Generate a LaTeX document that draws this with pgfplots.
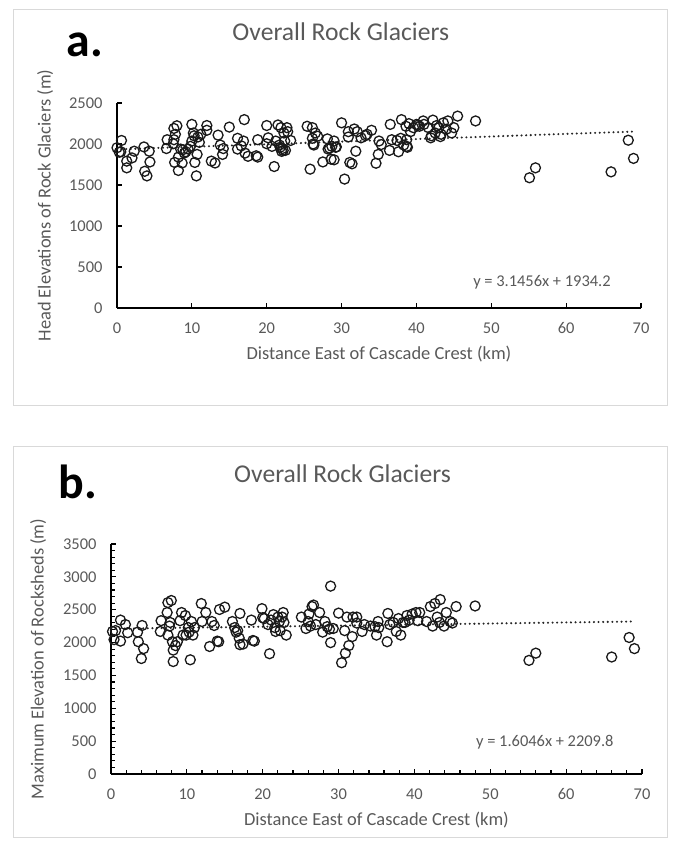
\documentclass[border=0pt]{standalone}
\usepackage{fontspec}
\setmainfont{Carlito}
\usepackage{pgfplots}
\usepackage{pgfplotstable}
\pgfplotsset{compat=1.18}
\definecolor{txt}{HTML}{595959}
\definecolor{bord}{HTML}{D9D9D9}

\pgfplotstableread{
x y
0.0 1954
0.3 1900
0.6 2043
0.5 1905
1.3 1791
1.3 1709
2.0 1830
2.3 1912
3.6 1964
3.7 1667
4.0 1611
4.3 1912
4.4 1781
6.6 1944
6.7 2052
7.5 2003
7.6 2052
7.6 2190
7.8 2118
8.0 2222
7.7 1775
8.2 1677
8.2 1840
8.5 1938
8.7 1768
8.8 1930
9.0 1890
9.2 1905
9.5 1938
9.8 1971
10.0 2239
10.0 2036
10.2 2134
10.3 2100
10.4 1775
10.6 1611
10.7 1873
10.8 2085
11.0 2020
11.2 2118
12.0 2225
12.0 2167
12.6 1791
13.1 1768
13.5 2108
13.8 1987
14.1 1873
14.2 1944
15.0 2206
16.1 2069
16.1 1938
16.6 1977
16.9 2036
17.0 2297
17.1 1889
17.5 1850
18.6 1856
18.8 2052
18.8 1840
20.0 2225
20.0 2003
20.2 2075
20.7 1971
21.0 1725
21.2 2036
21.5 2232
21.7 1987
21.8 1960
21.9 2199
22.0 1910
22.1 1944
22.2 1920
22.3 2134
22.4 2036
22.7 2199
22.5 1922
22.8 2150
23.2 2043
25.4 2216
25.8 1693
26.1 2199
26.1 2069
26.2 2000
26.3 1987
26.5 2134
26.8 2095
27.5 1781
28.1 2062
28.2 1938
28.4 1950
28.6 1814
28.7 1971
29.0 2036
29.0 1807
29.2 1960
29.3 1964
30.0 2258
30.4 1572
30.9 2150
30.9 2085
31.1 1775
31.4 1758
31.7 2183
31.9 1912
32.1 2150
32.6 2075
33.2 2101
33.4 2118
34.0 2167
34.6 1765
34.9 1873
35.0 2036
35.3 1993
36.4 1922
36.5 2239
36.7 2052
37.4 2043
37.6 1905
37.9 2069
38.0 2297
38.3 1987
38.6 2216
38.7 1971
38.7 2052
38.8 1960
39.0 2248
39.2 2150
39.6 2199
40.0 2239
40.2 2230
40.4 2216
40.9 2281
41.0 2239
41.6 2199
41.9 2075
42.0 2100
42.2 2291
42.5 2134
42.7 2225
43.0 2199
43.2 2090
43.3 2118
43.6 2258
44.0 2180
44.2 2281
44.7 2134
45.0 2199
45.5 2340
47.9 2281
55.1 1588
55.9 1709
66.0 1660
68.3 2046
69.0 1824
}\dataA

\pgfplotstableread{
x y
0.2 2169
0.4 2045
0.6 2182
1.25 2342
1.25 2022
1.9 2274
2.2 2150
3.5 2159
3.6 2013
4.1 2260
4.0 1757
4.3 1908
6.5 2169
6.6 2333
7.4 2457
7.5 2608
7.5 2114
7.7 2251
7.95 2640
7.8 2306
8.1 2013
8.2 1885
8.2 1711
8.5 1954
8.75 2013
9.1 2333
9.3 2457
9.5 2114
9.8 2411
9.9 2114
10.2 2228
10.3 2159
10.45 1738
10.6 2320
10.8 2114
11.0 2228
11.9 2594
12.0 2320
12.5 2457
13.0 1940
13.3 2320
13.6 2260
14.0 2022
14.2 2013
14.3 2503
15.0 2539
16.0 2320
16.3 2228
16.5 2159
16.7 2182
16.9 2068
17.0 2443
17.0 1968
17.4 1977
18.5 2342
18.7 2031
18.9 2022
19.9 2516
20.0 2379
20.2 2365
20.7 2274
20.9 1830
21.1 2342
21.4 2425
21.6 2228
21.7 2169
22.0 2388
22.2 2320
22.3 2182
22.55 2388
22.7 2457
22.8 2306
23.1 2114
25.1 2388
25.7 2214
26.0 2320
26.1 2434
26.3 2251
26.5 2548
26.7 2571
27.0 2274
27.5 2457
27.9 2159
28.2 2320
28.5 2242
28.8 2205
28.95 1999
28.95 2859
29.3 2214
30.0 2448
30.4 1693
30.8 2182
30.9 1839
31.1 2388
31.35 1954
31.8 2091
31.9 2388
32.4 2388
32.4 2297
33.1 2169
33.4 2274
34.2 2251
34.8 2242
35.0 2114
35.2 2320
35.3 2228
36.4 2013
36.5 2443
36.75 2274
37.2 2306
37.6 2169
37.9 2365
38.2 2114
38.5 2306
38.75 2306
39.0 2411
39.3 2342
39.7 2434
40.2 2457
40.45 2333
40.7 2457
41.6 2320
42.1 2548
42.4 2251
42.7 2594
43.0 2388
43.3 2306
43.4 2654
43.9 2251
44.2 2457
44.7 2320
45.0 2297
45.5 2548
48.0 2557
55.1 1729
56.0 1839
66.0 1780
68.3 2077
69.0 1908
}\dataB

\pgfplotsset{
  rg/.style={
    scale only axis,
    anchor=south west,
    clip=false,
    axis x line*=bottom,
    axis y line*=left,
    axis line style={line width=1.6bp, black},
    xmin=0, xmax=70, xtick={0,10,...,70},
    tick align=inside,
    major tick length=5bp,
    minor tick length=3.5bp,
    every tick/.style={black, line width=1.2bp},
    tick label style={font=\fontsize{16.5}{18}\selectfont, text=txt},
    /pgf/number format/assume math mode=true,
    /pgf/number format/1000 sep={},
    xticklabel style={anchor=center, yshift=-20bp},
    yticklabel style={anchor=east, xshift=-11bp},
    label style={font=\fontsize{18.5}{21}\selectfont, text=txt},
    xlabel style={at={(axis description cs:0.5,0)}, anchor=center, yshift=-46bp},
    ylabel style={anchor=center, rotate=0},
    title style={font=\fontsize{25.7}{28}\selectfont, text=txt, anchor=center},
  },
  pts/.style={only marks, mark=o, mark size=5bp, mark options={line width=1.3bp, draw=black!90}},
  trend/.style={line width=2.3bp, line cap=round, dash pattern=on 0bp off 4.6bp, color=black!85},
}

\begin{document}
\begin{tikzpicture}[x=1bp,y=1bp]
\useasboundingbox (0,0) rectangle (673,848);
\draw[bord, line width=1bp] (13,442) rectangle (667,838);
\draw[bord, line width=1bp] (13,10) rectangle (667,401);

% panel a
\begin{axis}[rg,
  at={(117bp,540bp)}, width=524bp, height=205bp,
  ymin=0, ymax=2500, ytick={0,500,...,2500},
  title={Overall Rock Glaciers},
  title style={at={(rel axis cs:0.427,1.317)}},
  xlabel={Distance East of Cascade Crest (km)},
  ylabel={Head Elevations of Rock Glaciers (m)},
  ylabel style={at={(rel axis cs:-0.137,0.5)}},
]
\addplot[trend] coordinates {(0,1934.2) (69,2151.3)};
\addplot[pts] table[x=x,y=y] {\dataA};
\node[font=\fontsize{48}{50}\bfseries\selectfont, anchor=center] at (rel axis cs:-0.061,1.283) {a.};
\node[font=\fontsize{16.5}{18}\selectfont, text=txt, anchor=center] at (rel axis cs:0.811,0.127) {y = 3.1456x + 1934.2};
\end{axis}

% panel b
\begin{axis}[rg,
  at={(111bp,74bp)}, width=531bp, height=230bp,
  ymin=0, ymax=3500, ytick={0,500,...,3500},
  minor x tick num=4, minor y tick num=4,
  title={Overall Rock Glaciers},
  title style={at={(rel axis cs:0.436,1.278)}},
  xlabel={Distance East of Cascade Crest (km)},
  ylabel={Maximum Elevation of Rocksheds (m)},
  ylabel style={at={(rel axis cs:-0.137,0.5)}},
]
\addplot[trend] coordinates {(0,2209.8) (69,2320.5)};
\addplot[pts] table[x=x,y=y] {\dataB};
\node[font=\fontsize{48}{50}\bfseries\selectfont, anchor=center] at (rel axis cs:-0.062,1.27) {b.};
\node[font=\fontsize{16.5}{18}\selectfont, text=txt, anchor=center] at (rel axis cs:0.817,0.14) {y = 1.6046x + 2209.8};
\end{axis}
\end{tikzpicture}
\end{document}
